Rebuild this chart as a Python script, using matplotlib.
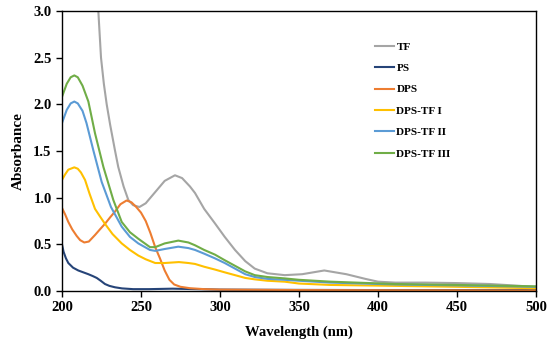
import numpy as np
import matplotlib
matplotlib.use('Agg')
from matplotlib import pyplot as plt

plt.rcParams['font.family'] = ['Liberation Serif', 'DejaVu Serif']
plt.rcParams['font.weight'] = 'bold'

# TF
wl_tf = [221, 223, 224.7, 226.5, 228.3, 230.5, 233.5, 235.6, 239, 242, 245, 249, 253, 258, 265, 271.5,
         276, 281, 284.2, 290, 296.8, 303, 309.5, 316, 322, 330, 341, 352, 366, 380, 392, 400, 411,
         430, 450, 471, 490, 500]
ab_tf = [3.6, 3.0, 2.5, 2.22, 2.0, 1.78, 1.51, 1.33, 1.12, 0.975, 0.92, 0.90, 0.94, 1.04, 1.18, 1.24,
         1.21, 1.12, 1.05, 0.88, 0.725, 0.58, 0.44, 0.32, 0.24, 0.19, 0.17, 0.18, 0.22, 0.18, 0.13, 0.10,
         0.09, 0.09, 0.085, 0.075, 0.055, 0.04]

# PS
wl_ps = [200, 201, 202.5, 204, 207, 210.3, 213.5, 216.7, 219.5, 222, 224.5, 227.2, 230, 233.5, 238,
         245, 255, 270, 285, 300, 350, 400, 500]
ab_ps = [0.50, 0.42, 0.35, 0.30, 0.25, 0.22, 0.20, 0.18, 0.16, 0.14, 0.11, 0.075, 0.055, 0.04, 0.028,
         0.02, 0.02, 0.025, 0.02, 0.015, 0.012, 0.01, 0.01]

# DPS
wl_dps = [200, 202, 204, 206.5, 209.3, 211.5, 214.1, 217, 220.9, 224, 227.2, 230.5, 233.5, 237, 240.9,
          244, 247, 250, 253, 256, 259, 262, 265, 268, 271, 275, 281, 290, 300, 350, 400, 500]
ab_dps = [0.89, 0.82, 0.74, 0.66, 0.59, 0.545, 0.52, 0.53, 0.60, 0.66, 0.72, 0.79, 0.85, 0.93, 0.97,
          0.95, 0.90, 0.84, 0.75, 0.62, 0.47, 0.35, 0.22, 0.12, 0.07, 0.045, 0.03, 0.02, 0.015, 0.01,
          0.008, 0.005]

# DPS-TF I
wl_t1 = [200, 202, 204, 207.8, 210, 212, 214.6, 217.5, 220.9, 224, 227.2, 232, 237.8, 243, 248.3, 253,
         259, 265, 274, 280, 284.2, 290, 296.8, 303, 309.5, 316, 322, 330, 341, 350, 370, 411, 450, 500]
ab_t1 = [1.19, 1.25, 1.30, 1.325, 1.31, 1.27, 1.19, 1.04, 0.88, 0.80, 0.72, 0.61, 0.51, 0.44, 0.38, 0.34,
         0.30, 0.30, 0.31, 0.30, 0.29, 0.26, 0.23, 0.20, 0.17, 0.14, 0.125, 0.11, 0.10, 0.08, 0.065,
         0.055, 0.045, 0.03]

# DPS-TF II
wl_t2 = [200, 203, 205.5, 207.8, 210, 213, 215.5, 219.8, 225.1, 231, 237.8, 243, 248.3, 255.7, 259, 265,
         273.6, 280, 284.2, 290, 296.8, 303, 309.5, 316, 322, 330, 341, 350, 370, 411, 450, 500]
ab_t2 = [1.80, 1.94, 2.01, 2.03, 2.01, 1.93, 1.80, 1.51, 1.17, 0.90, 0.69, 0.58, 0.51, 0.44, 0.43, 0.45,
         0.475, 0.46, 0.44, 0.40, 0.35, 0.30, 0.24, 0.18, 0.15, 0.13, 0.12, 0.11, 0.09, 0.07, 0.06, 0.045]

# DPS-TF III
wl_t3 = [200, 203, 205.5, 207.8, 210, 213, 216.7, 220.9, 226.2, 232.5, 237.8, 243, 248.3, 255.7, 259, 265,
         273.6, 280, 284.2, 290, 296.8, 303, 309.5, 316, 322, 330, 341, 350, 370, 411, 450, 500]
ab_t3 = [2.08, 2.22, 2.29, 2.31, 2.29, 2.20, 2.03, 1.69, 1.33, 0.975, 0.74, 0.63, 0.56, 0.47, 0.47, 0.51,
         0.54, 0.52, 0.49, 0.44, 0.39, 0.33, 0.27, 0.21, 0.17, 0.15, 0.135, 0.12, 0.10, 0.075, 0.065, 0.05]

fig = plt.figure(figsize=(5.5, 3.41), dpi=100)
ax = fig.add_axes([0.1127, 0.1466, 0.8618, 0.8211])

lw = 1.5
ax.plot(wl_tf, ab_tf, color='#A5A5A5', lw=lw, label='TF')
ax.plot(wl_ps, ab_ps, color='#264478', lw=lw, label='PS')
ax.plot(wl_dps, ab_dps, color='#ED7D31', lw=lw, label='DPS')
ax.plot(wl_t1, ab_t1, color='#FFC000', lw=lw, label='DPS-TF I')
ax.plot(wl_t2, ab_t2, color='#5B9BD5', lw=lw, label='DPS-TF II')
ax.plot(wl_t3, ab_t3, color='#70AD47', lw=lw, label='DPS-TF III')

ax.set_xlim(200, 500)
ax.set_ylim(0, 3.0)
ax.set_xticks([200, 250, 300, 350, 400, 450, 500])
ax.set_yticks([0, 0.5, 1.0, 1.5, 2.0, 2.5, 3.0])
ax.set_yticklabels(['0.0', '0.5', '1.0', '1.5', '2.0', '2.5', '3.0'])
ax.tick_params(direction='out', length=4, width=1, labelsize=10.5, top=False, right=False)
for s in ax.spines.values():
    s.set_linewidth(1.0)
ax.set_xlabel('Wavelength (nm)', fontsize=10.5, fontweight='bold', labelpad=8)
ax.set_ylabel('Absorbance', fontsize=11, fontweight='bold', labelpad=6)

ax.legend(loc='upper left', bbox_to_anchor=(0.66, 0.89), frameon=False, fontsize=8,
          handlelength=1.75, handletextpad=0.2, labelspacing=1.05, borderpad=0, borderaxespad=0)

plt.savefig('out.png', dpi=100)
